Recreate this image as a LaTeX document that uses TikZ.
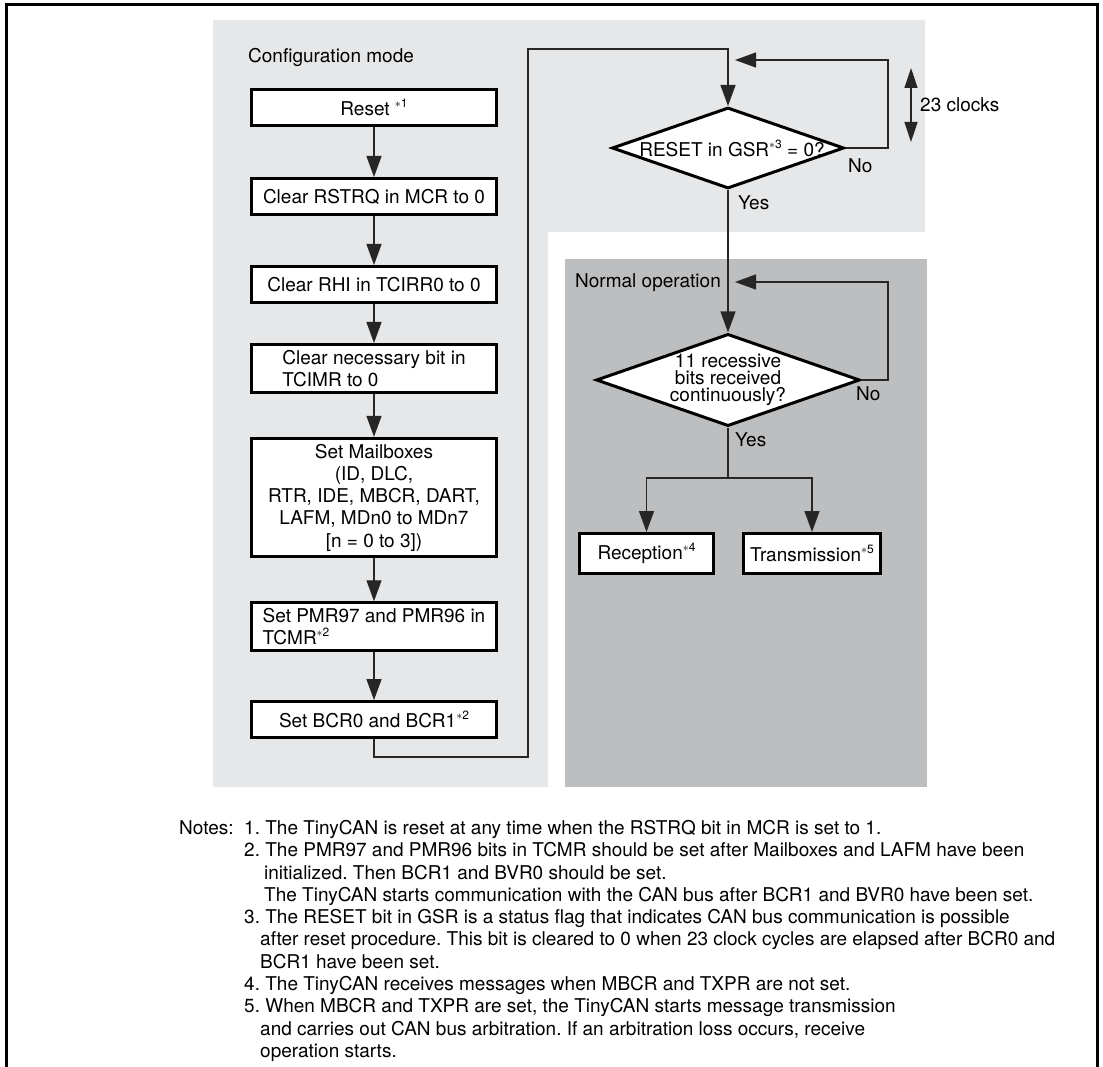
\documentclass[tikz,border=0pt]{standalone}
\usepackage{fontspec}
\setmainfont{TeX Gyre Heros}
\usetikzlibrary{positioning,arrows.meta,shapes.geometric}
\definecolor{cfg gray}{RGB}{230,231,232}
\definecolor{run gray}{RGB}{188,190,192}
\newcommand{\fnref}[1]{\raisebox{0.42em}{\fontsize{12}{12}\selectfont$\ast$#1}}
\tikzset{
  can frame/.style={line width=3pt,black},
  can step/.style={draw=black,line width=3pt,fill=white,minimum width=245pt,
    minimum height=36pt,inner xsep=6pt,inner ysep=5.5pt},
  can test/.style={draw=black,line width=3pt,fill=white,diamond,inner sep=0pt,
    shape aspect=2.86},
  can flow/.style={-{Triangle[length=21pt,width=15pt]},line width=1.3pt,black!85},
  can line/.style={line width=1.3pt,black!85},
  can label/.style={inner sep=0pt,anchor=west}
}

\begin{document}
\begin{tikzpicture}[x=1pt,y=-1pt,font=\fontsize{19}{22.3}\selectfont\frenchspacing]
  \useasboundingbox (0,0) rectangle (1103,1067);
  % mode areas and outer frame
  \fill[cfg gray] (213,20) -- (925,20) -- (925,232) -- (548,232) -- (548,787)
    -- (213,787) -- cycle;
  \fill[run gray] (565,259) rectangle (927,787);
  \draw[can frame] (6,1067) -- (6,5) -- (1097,5) -- (1097,1067);

  \node[can label] (cfgmode) at (248,57) {Configuration mode};
  \node[can label] (runmode) at (575,283) {Normal operation};

  % configuration sequence
  \node[can step] (reset) at (374,107.5) {Reset \fnref{1}};
  \node[can step,below=50pt of reset] (rstrq) {Clear RSTRQ in MCR to 0};
  \node[can step,below=49pt of rstrq] (rhi) {Clear RHI in TCIRR0 to 0};
  \node[can step,below=39pt of rhi,align=left] (tcimr)
    {Clear necessary bit in\\TCIMR to 0};
  \node[can step,below=43pt of tcimr,align=center] (mbox)
    {Set Mailboxes\\(ID, DLC,\\RTR, IDE, MBCR, DART,\\LAFM, MDn0 to MDn7\\{[}n = 0 to 3{]})};
  \node[can step,below=43pt of mbox,align=left] (pmr)
    {Set PMR97 and PMR96 in\\TCMR\fnref{2}};
  \node[can step,below=48pt of pmr] (bcr) {Set BCR0 and BCR1\fnref{2}};

  \foreach \a/\b in {reset/rstrq,rstrq/rhi,rhi/tcimr,tcimr/mbox,mbox/pmr,pmr/bcr}
    \draw[can flow] (\a) -- (\b);

  % wait for RESET to clear
  \node[can test,minimum width=232pt,minimum height=81pt] (gsrchk) at (728,148)
    {\makebox[0pt]{\hspace*{8pt}RESET in GSR\fnref{3} = 0?}};
  \coordinate (rtnlow) at (528,757);
  \coordinate (rtnhigh) at (528,49);
  \draw[can flow] (bcr.south) |- (rtnlow) -- (rtnhigh) -| (gsrchk.north);

  \coordinate (gsrloop) at (888,60);
  \coordinate (gsrback) at (735,60);
  \draw[can flow] (gsrchk.east) -| (gsrloop) -- (gsrback);
  \node[can label] (gsrno) at (848,166) {No};
  \node[can label] (gsryes) at (738,203) {Yes};

  \coordinate (clktop) at (911,68);
  \coordinate (clkbot) at (911,142);
  \draw[can line,{Triangle[length=20pt,width=13pt]}-{Triangle[length=20pt,width=13pt]}]
    (clktop) -- (clkbot);
  \node[can label] (clk) at (920,105) {23 clocks};

  % normal operation
  \node[can test,minimum width=263pt,minimum height=92pt,align=center,
    font=\fontsize{19}{17}\selectfont] (idlechk) at (728,380)
    {11 recessive\\bits received\\continuously?};
  \draw[can flow] (gsrchk.south) -- (idlechk.north);

  \coordinate (idleloop) at (888,282);
  \coordinate (idleback) at (735,282);
  \draw[can flow] (idlechk.east) -| (idleloop) -- (idleback);
  \node[can label] (idleno) at (856,394) {No};
  \node[can label] (idleyes) at (735,440) {Yes};

  \node[can step,minimum width=134pt,minimum height=40pt] (rx) at (646.5,553.5)
    {Reception\fnref{4}};
  \node[can step,minimum width=137pt,minimum height=40pt] (tx) at (812,553.5)
    {Transmission\fnref{5}};
  \coordinate (split) at (728,478);
  \draw[can line] (idlechk.south) -- (split);
  \draw[can flow] (split) -| (rx.north);
  \draw[can flow] (split) -| (tx.north);

  % notes
  \node[can label,anchor=north west] (notes) at (179,820) {Notes:};
  \node[can label,anchor=north west,align=left] (notelist) at (244,820)
    {1. The TinyCAN is reset at any time when the RSTRQ bit in MCR is set to 1.\\
     2. The PMR97 and PMR96 bits in TCMR should be set after Mailboxes and LAFM have been\\
     \hspace*{20pt}initialized. Then BCR1 and BVR0 should be set.\\
     \hspace*{20pt}The TinyCAN starts communication with the CAN bus after BCR1 and BVR0 have been set.\\
     3. The RESET bit in GSR is a status flag that indicates CAN bus communication is possible\\
     \hspace*{16pt}after reset procedure. This bit is cleared to 0 when 23 clock cycles are elapsed after BCR0 and\\
     \hspace*{16pt}BCR1 have been set.\\
     4. The TinyCAN receives messages when MBCR and TXPR are not set.\\
     5. When MBCR and TXPR are set, the TinyCAN starts message transmission\\
     \hspace*{16pt}and carries out CAN bus arbitration. If an arbitration loss occurs, receive\\
     \hspace*{16pt}operation starts.};
\end{tikzpicture}
\end{document}
